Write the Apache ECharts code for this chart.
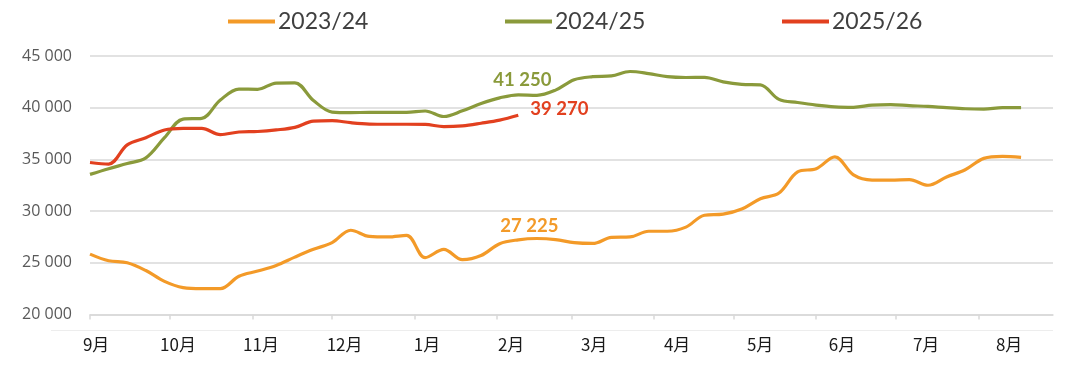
<!DOCTYPE html>
<html>
<head>
<meta charset="utf-8">
<script src="https://cdn.jsdelivr.net/npm/echarts@6/dist/echarts.min.js"></script>
<style>
html,body{margin:0;padding:0;background:#fff;}
#c{width:1080px;height:382px;}
</style>
</head>
<body>
<div id="c"></div>
<script>
// Days since 1 September (weekly observations)
var days = [0,7,14,21,28,35,42,49,56,63,70,77,84,91,98,105,112,119,126,133,140,147,154,161,168,175,182,189,196,203,210,217,224,231,238,245,252,259,266,273,280,287,294,301,308,315,322,329,336,343,350];

var s2023 = [25840,25200,25000,24250,23200,22600,22500,22500,23700,24200,24750,25550,26300,26950,28150,27550,27500,27650,25500,26300,25300,25700,26850,27225,27350,27250,26950,26870,27450,27500,28050,28050,28450,29600,29700,30200,31200,31750,33800,34100,35250,33500,33000,33000,33050,32500,33300,34000,35100,35300,35200];

var s2024 = [33550,34100,34600,35150,37100,38900,38970,40740,41800,41780,42380,42400,40700,39580,39520,39550,39550,39550,39680,39150,39700,40400,40950,41250,41200,41700,42700,43000,43070,43500,43300,43000,42920,42940,42500,42250,42200,40800,40500,40250,40080,40040,40250,40300,40200,40120,40000,39900,39870,40000,40000];

var s2025 = [34700,34550,36400,37100,37850,38000,38000,37400,37650,37700,37850,38100,38700,38750,38550,38420,38400,38400,38380,38170,38250,38500,38800,39270];

var seriesNames = ['2023/24','2024/25','2025/26'];
var monthLabels = ['9月','10月','11月','12月','1月','2月','3月','4月','5月','6月','7月','8月'];
var monthStartDays = [0,30,61,91,122,153,181,212,242,273,303,334];
var monthLabelDays = [2.3,33.1,64.3,95.7,126.7,158.3,189.5,220.7,251.9,282.7,314.3,345.5];
var yTicks = [20000,25000,30000,35000,40000,45000];

// annotated points (index into series)
var label2023Index = 23, label2024Index = 23, label2025Index = 23;

var colors = ['#F39A28','#8A9A3B','#E2401F'];

function fmt(v){ return String(Math.round(v)).replace(/\B(?=(\d{3})+(?!\d))/g,' '); }

function build(vals, labelIdx, labelCfg){
  return vals.map(function(v,i){
    var item = {value:[days[i], v]};
    if(i===labelIdx){ item.label = labelCfg; }
    return item;
  });
}

var labelBase = {show:true, fontFamily:'Lato', fontWeight:'bold', fontSize:18.5,
  formatter:function(p){return fmt(p.value[1]);}};

function lineSeries(k, vals, idx, lab){
  return {name:seriesNames[k], type:'line', smooth:0.35,
    symbol:'circle', symbolSize:0, showSymbol:true, showAllSymbol:true,
    lineStyle:{color:colors[k], width:3.2}, itemStyle:{color:colors[k]}, z:2+k,
    label:{show:false},
    emphasis:{disabled:true},
    data:build(vals, idx, Object.assign({}, labelBase, lab, {color:colors[k]}))};
}

var chart = echarts.init(document.getElementById('c'), null, {renderer:'canvas'});
chart.setOption({
  animation:false,
  backgroundColor:'#fff',
  grid:{left:90, right:27, top:56, bottom:67.5, containLabel:false},
  legend:[
    {data:[seriesNames[0]], left:228, top:10},
    {data:[seriesNames[1]], left:505, top:10},
    {data:[seriesNames[2]], left:782, top:10}
  ].map(function(l){
    return Object.assign(l,{icon:'rect', itemWidth:47, itemHeight:4, itemGap:0, padding:0,
      textStyle:{fontFamily:'Lato', fontSize:23, color:'#404040', padding:[0,0,0,-2]}});
  }),
  xAxis:{
    type:'value', min:0, max:362,
    axisLine:{show:true, lineStyle:{color:'#d9d9d9', width:1.5}},
    axisTick:{show:true, customValues:monthStartDays, length:5, lineStyle:{color:'#d9d9d9', width:1.5}},
    axisLabel:{show:true, customValues:monthLabelDays, margin:22,
      fontFamily:'Noto Sans CJK SC', fontSize:17, color:'#1a1a1a',
      formatter:function(v){
        var best=0, bd=1e9;
        for(var i=0;i<monthLabelDays.length;i++){var d=Math.abs(monthLabelDays[i]-v); if(d<bd){bd=d;best=i;}}
        return monthLabels[best];
      }},
    splitLine:{show:false}
  },
  yAxis:{
    type:'value', min:yTicks[0], max:yTicks[yTicks.length-1], interval:5000,
    axisLine:{show:false}, axisTick:{show:false},
    axisLabel:{margin:18, fontFamily:'Open Sans', fontSize:16, color:'#595959', formatter:fmt},
    splitLine:{show:true, lineStyle:{color:'#d9d9d9', width:1.5}}
  },
  graphic:[{type:'line', silent:true, shape:{x1:51,y1:330.5,x2:1053,y2:330.5}, style:{stroke:'#ededed', lineWidth:1}}],
  series:[
    lineSeries(0, s2023, label2023Index, {position:'top', distance:4, offset:[11,0]}),
    lineSeries(1, s2024, label2024Index, {position:'top', distance:5, offset:[4,0]}),
    lineSeries(2, s2025, label2025Index, {position:'right', distance:12, offset:[0,-6]})
  ]
});
</script>
</body>
</html>
